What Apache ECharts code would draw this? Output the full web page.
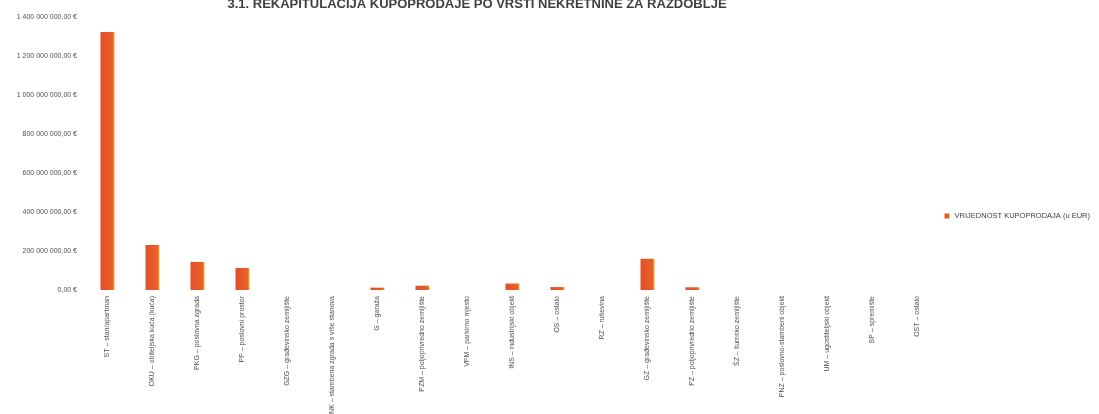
<!DOCTYPE html>
<html>
<head>
<meta charset="utf-8">
<script src="https://cdn.jsdelivr.net/npm/echarts@6/dist/echarts.min.js"></script>
<style>html,body{margin:0;padding:0;background:#fff}#c{width:1099px;height:414px}</style>
</head>
<body>
<div id="c"></div>
<script>
const titleText = "3.1. REKAPITULACIJA KUPOPRODAJE PO VRSTI NEKRETNINE ZA RAZDOBLJE";
const seriesName = "VRIJEDNOST KUPOPRODAJA (u EUR)";
const categories = [
  "ST – stan/apartman",
  "OKU – obiteljska kuća (kuća)",
  "PKG – poslovna zgrada",
  "PP – poslovni prostor",
  "GZG – građevinsko zemljište",
  "SNK – stambena zgrada s više stanova",
  "G – garaža",
  "PZM – poljoprivredno zemljište",
  "VPM – parkirno mjesto",
  "INS – industrijski objekt",
  "OS – ostalo",
  "RZ – ruševina",
  "GZ – građevinsko zemljište",
  "PZ – poljoprivredno zemljište",
  "ŠZ – šumsko zemljište",
  "PNZ – poslovno-stambeni objekt",
  "UM – ugostiteljski objekt",
  "SP – spremište",
  "OST – ostalo"
];
const values = [1323000000, 231000000, 144000000, 113000000, 0, 0, 12000000, 22000000, 0, 33000000, 15000000, 0, 160000000, 14000000, 0, 0, 0, 0, 0];
const yTicks = [0, 200000000, 400000000, 600000000, 800000000, 1000000000, 1200000000, 1400000000];

function fmt(v){
  const s = Math.round(v).toString().replace(/\B(?=(\d{3})+(?!\d))/g, ' ');
  return s + ',00 €';
}

const chart = echarts.init(document.getElementById('c'), null, {renderer:'canvas'});
chart.setOption({
  animation:false,
  title:{text:titleText,left:472,textAlign:'center',top:-7,
    textStyle:{fontSize:13,fontWeight:'bold',color:'#404040',fontFamily:'Liberation Sans'}},
  legend:{right:4,top:207,itemWidth:5,itemHeight:5,icon:'rect',itemGap:4,
    textStyle:{fontSize:7.5,color:'#404040',fontFamily:'Liberation Sans'},data:[seriesName]},
  grid:{left:85,right:159,top:17,bottom:124,containLabel:false,outerBoundsMode:'none'},
  xAxis:{type:'category',data:categories,
    axisLine:{show:false},axisTick:{show:false},
    axisLabel:{rotate:90,interval:0,fontSize:7,color:'#505050',margin:6,fontFamily:'Liberation Sans'}},
  yAxis:{type:'value',min:yTicks[0],max:yTicks[yTicks.length-1],interval:200000000,
    splitLine:{show:false},axisLine:{show:false},axisTick:{show:false},
    axisLabel:{formatter:fmt,fontSize:7,color:'#505050',margin:8,fontFamily:'Liberation Sans'}},
  series:[{name:seriesName,type:'bar',data:values,barWidth:14,
    itemStyle:{color:new echarts.graphic.LinearGradient(0,0,1,0,[
      {offset:0,color:'#e2502b'},{offset:0.85,color:'#e8602a'},{offset:1,color:'#f0b030'}])}}]
});
</script>
</body>
</html>
